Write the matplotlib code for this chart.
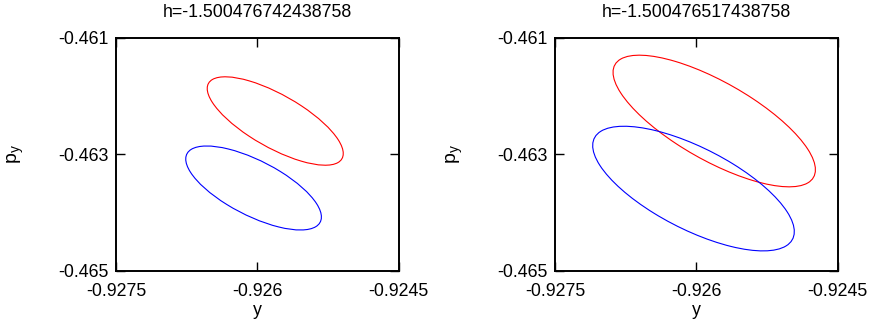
import numpy as np
import matplotlib
matplotlib.use("Agg")
import matplotlib.pyplot as plt
from matplotlib.patches import Ellipse

plt.rcParams["font.family"] = ["Liberation Sans", "DejaVu Sans"]
plt.rcParams["mathtext.fontset"] = "custom"
plt.rcParams["mathtext.rm"] = "Liberation Sans"
plt.rcParams["mathtext.it"] = "Liberation Sans"

# Energy levels of the two sections
titles = ["h=-1.500476742438758", "h=-1.500476517438758"]

# Axis ticks (same for both panels)
x_ticks = [-0.9275, -0.926, -0.9245]
y_ticks = [-0.465, -0.463, -0.461]

# Invariant curves: centre, half-extent in y and p_y, and correlation (tilt)
red_cx = [-0.92581, -0.92581]
red_cy = [-0.46243, -0.46243]
red_hx = [0.000722, 0.001074]
red_hy = [0.000759, 0.001130]
red_rho = [-0.735, -0.74]

blue_cx = [-0.92604, -0.92603]
blue_cy = [-0.46358, -0.46359]
blue_hx = [0.000720, 0.001070]
blue_hy = [0.000721, 0.001070]
blue_rho = [-0.69, -0.69]


def curve_patch(cx, cy, hx, hy, rho, color):
    # ellipse with given bounding half-extents and correlation
    m = np.array([[hx * hx, rho * hx * hy], [rho * hx * hy, hy * hy]])
    vals, vecs = np.linalg.eigh(m)
    major = vecs[:, 1]
    angle = np.degrees(np.arctan2(major[1], major[0]))
    return Ellipse((cx, cy), 2 * np.sqrt(vals[1]), 2 * np.sqrt(vals[0]),
                   angle=angle, fill=False, edgecolor=color, linewidth=0.8)


fig = plt.figure(figsize=(8.71, 3.24), dpi=100)
lefts = [0.1332, 0.6372]
for i in range(2):
    ax = fig.add_axes([lefts[i], 0.1645, 0.3245, 0.7191])
    ax.add_patch(curve_patch(red_cx[i], red_cy[i], red_hx[i], red_hy[i],
                             red_rho[i], "#ff0000"))
    ax.add_patch(curve_patch(blue_cx[i], blue_cy[i], blue_hx[i], blue_hy[i],
                             blue_rho[i], "#0000ff"))
    ax.set_xlim(x_ticks[0], x_ticks[-1])
    ax.set_ylim(y_ticks[0], y_ticks[-1])
    ax.set_xticks(x_ticks)
    ax.set_xticklabels(["%g" % v for v in x_ticks])
    ax.set_yticks(y_ticks)
    ax.set_yticklabels(["%g" % v for v in y_ticks])
    ax.tick_params(direction="in", length=6.5, width=1.0, top=True,
                   right=True, labelsize=12.8, pad=9)
    ax.tick_params(axis="y", pad=5)
    for s in ax.spines.values():
        s.set_linewidth(1.4)
    ax.set_title(titles[i], fontsize=12.8, pad=15)
    ax.set_xlabel("y", fontsize=12.8)
    ax.xaxis.set_label_coords(0.5, -0.135)
    ax.set_ylabel(r"$\mathrm{p_y}$", fontsize=14)
    ax.yaxis.set_label_coords(-0.318, 0.5)

fig.savefig("out.png", dpi=100)
